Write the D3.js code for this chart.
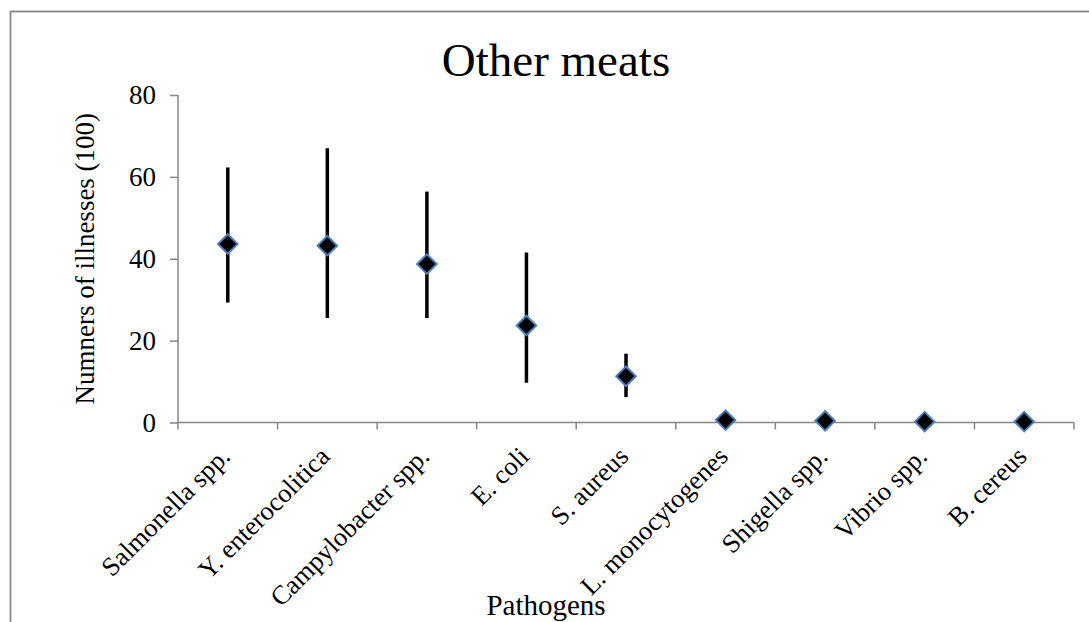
<!DOCTYPE html>
<html>
<head>
<meta charset="utf-8">
<script src="https://cdn.jsdelivr.net/npm/d3@7"></script>
<style>
  html, body { margin: 0; padding: 0; background: #fff; }
  svg { display: block; font-family: "Liberation Serif", "Times New Roman", serif; }
</style>
</head>
<body>
<div id="chart"></div>
<script>
// data (units of 100 illnesses)
const categories = ['Salmonella spp.', 'Y. enterocolitica', 'Campylobacter spp.', 'E. coli', 'S. aureus',
  'L. monocytogenes', 'Shigella spp.', 'Vibrio spp.', 'B. cereus']
const meanValues = [43.6, 43.2, 38.7, 23.7, 11.3, 0.6, 0.4, 0.2, 0.2]
const lowerValues = [29.3, 25.5, 25.5, 9.7, 6.2, 0.6, 0.4, 0.2, 0.2]
const upperValues = [62.3, 67.0, 56.4, 41.5, 16.8, 0.6, 0.4, 0.2, 0.2]
const yTicks = [0, 20, 40, 60, 80]

const width = 1089
const height = 622
const margin = { top: 95, right: 15, bottom: 199.5, left: 178 }
const plotW = width - margin.left - margin.right
const plotH = height - margin.top - margin.bottom

const axisColor = '#868686'

const svg = d3.select('#chart').append('svg')
  .attr('width', width)
  .attr('height', height)

// outer frame (runs off the right and bottom edges)
svg.append('rect')
  .attr('x', 10.5).attr('y', 11.5)
  .attr('width', 1200).attr('height', 800)
  .attr('fill', 'none')
  .attr('stroke', axisColor)
  .attr('stroke-width', 1.8)

// title
svg.append('text')
  .attr('x', 556).attr('y', 76)
  .attr('text-anchor', 'middle')
  .attr('font-size', 47)
  .attr('fill', '#000')
  .text('Other meats')

const x = d3.scaleBand().domain(categories).range([0, plotW]).padding(0)
const y = d3.scaleLinear().domain([0, 80]).range([plotH, 0])

const g = svg.append('g').attr('transform', `translate(${margin.left},${margin.top})`)

// y axis
const yAxis = g.append('g')
  .call(d3.axisLeft(y).tickValues(yTicks).tickSize(8).tickPadding(14))
yAxis.select('.domain').attr('stroke', axisColor).attr('stroke-width', 1.5)
  .attr('d', `M0,0V${plotH}`)
yAxis.selectAll('.tick line').attr('stroke', axisColor).attr('stroke-width', 1.5)
yAxis.selectAll('.tick text')
  .attr('font-family', '"Liberation Serif", serif')
  .attr('font-size', 27)
  .attr('fill', '#000')

// x axis, ticks between categories
const bounds = categories.map(c => x(c)).concat([plotW])
const xAxisG = g.append('g').attr('transform', `translate(0,${plotH})`)
xAxisG.append('line')
  .attr('x1', 0).attr('x2', plotW)
  .attr('stroke', axisColor).attr('stroke-width', 1.5)
xAxisG.selectAll('line.tick')
  .data(bounds)
  .join('line')
  .attr('class', 'tick')
  .attr('x1', d => d).attr('x2', d => d)
  .attr('y1', 0).attr('y2', 7)
  .attr('stroke', axisColor).attr('stroke-width', 1.5)

// category labels
xAxisG.selectAll('text.cat')
  .data(categories)
  .join('text')
  .attr('class', 'cat')
  .attr('transform', d => `translate(${x(d) + x.bandwidth() / 2 + 4},${35.5}) rotate(-45)`)
  .attr('text-anchor', 'end')
  .attr('font-size', 26.5)
  .attr('fill', '#000')
  .text(d => d)

// error bars
g.append('g')
  .selectAll('line')
  .data(categories)
  .join('line')
  .attr('x1', d => x(d) + x.bandwidth() / 2)
  .attr('x2', d => x(d) + x.bandwidth() / 2)
  .attr('y1', (d, i) => y(lowerValues[i]))
  .attr('y2', (d, i) => y(upperValues[i]))
  .attr('stroke', '#000')
  .attr('stroke-width', 3.5)

// diamond markers
const diamond = d3.symbol().type(d3.symbolSquare).size(190)
g.append('g')
  .selectAll('path')
  .data(categories)
  .join('path')
  .attr('d', diamond)
  .attr('transform', (d, i) => `translate(${x(d) + x.bandwidth() / 2},${y(meanValues[i])}) rotate(45)`)
  .attr('fill', '#000')
  .attr('stroke', '#4a7ebb')
  .attr('stroke-width', 2)

// axis titles
svg.append('text')
  .attr('transform', `translate(94,${margin.top + plotH / 2}) rotate(-90)`)
  .attr('text-anchor', 'middle')
  .attr('font-size', 27)
  .attr('fill', '#000')
  .text('Numners of illnesses (100)')

svg.append('text')
  .attr('x', 546).attr('y', 615)
  .attr('text-anchor', 'middle')
  .attr('font-size', 29)
  .attr('fill', '#000')
  .text('Pathogens')
</script>
</body>
</html>
